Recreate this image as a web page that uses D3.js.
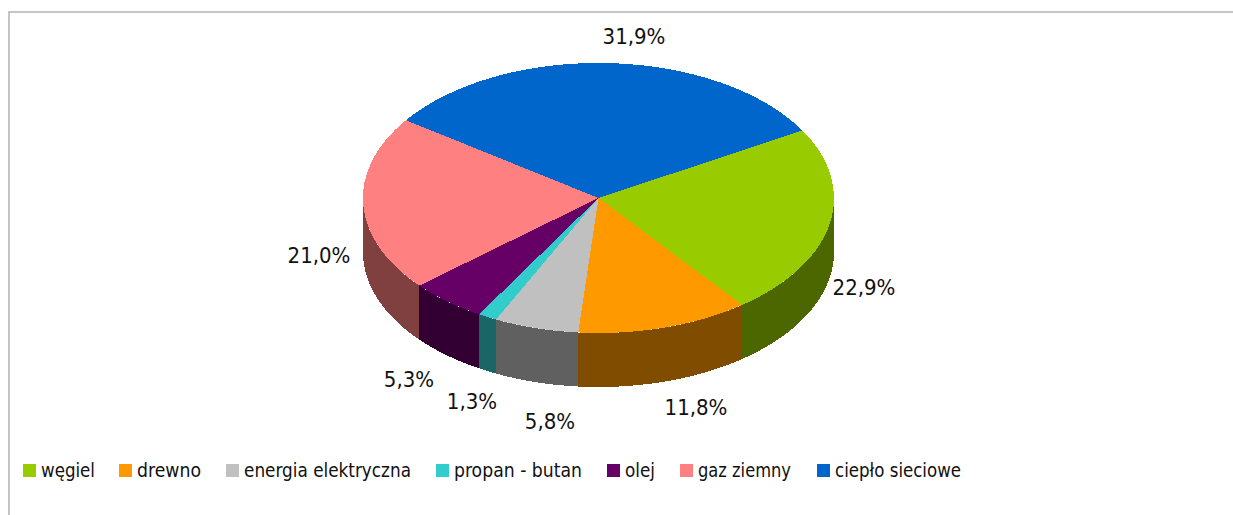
<!DOCTYPE html>
<html><head><meta charset="utf-8">
<script src="https://cdn.jsdelivr.net/npm/d3@7"></script>
<style>html,body{margin:0;padding:0;background:#fff;overflow:hidden}svg{display:block}
text{font-family:"DejaVu Sans Condensed","DejaVu Sans",sans-serif;fill:#111}</style></head>
<body><svg id="c" width="1233" height="515"></svg>
<script>
const categories = ["węgiel","drewno","energia elektryczna","propan - butan","olej","gaz ziemny","ciepło sieciowe"];
const values = [22.9,11.8,5.8,1.3,5.3,21.0,31.9];
const valueLabels = ["22,9%","11,8%","5,8%","1,3%","5,3%","21,0%","31,9%"];
const colors = ["#99cc00","#ff9900","#c0c0c0","#33cccc","#660066","#ff8080","#0066cc"];
const sideColors = ["#4c6600","#804c00","#606060","#1a6666","#330033","#804040","#003366"];
const labelX = [864,696,550,472,409,319,634];
const labelY = [287,407,421,401,379,255,36];
const legendX = [23,119,226,436,607,680,817];
const legendW = [54,64,167,128,30,93,126];

const svg = d3.select("#c");
const cx=598.5, cy=198, rx=235.5, ry=135, depth=54;
const px=a=>cx+rx*Math.sin(a), py=a=>cy-ry*Math.cos(a);

svg.append("path").attr("d","M9 515V12H1233").attr("fill","none").attr("stroke","#b3b3b3").attr("stroke-width",1.5);

const startAngle=60*Math.PI/180;
const arcs=d3.pie().sort(null).value(d=>d).startAngle(startAngle).endAngle(startAngle+2*Math.PI)(values);

// side wall: visible where the rim faces front (PI/2 .. 3PI/2)
const area=d3.area().x(px).y0(a=>py(a)+depth).y1(py);
arcs.forEach(d=>{
  const a0=Math.max(d.startAngle,Math.PI/2), a1=Math.min(d.endAngle,1.5*Math.PI);
  if(a1<=a0) return;
  const n=Math.ceil((a1-a0)/0.005);
  const as=d3.range(n+1).map(i=>a0+(a1-a0)*i/n);
  svg.append("path").attr("d",area(as)).attr("fill",sideColors[d.index])
    .attr("shape-rendering","crispEdges");
});

// top face
const arc=d3.arc().innerRadius(0).outerRadius(1);
const topFace=svg.append("g").attr("transform",`translate(${cx},${cy}) scale(${rx},${ry})`);
topFace.selectAll("path").data(arcs).join("path").attr("d",arc)
  .attr("fill",d=>colors[d.index]).attr("shape-rendering","crispEdges");

// value labels
svg.selectAll("text.v").data(valueLabels).join("text").attr("class","v")
  .attr("x",(d,i)=>labelX[i]).attr("y",(d,i)=>labelY[i]+8)
  .attr("text-anchor","middle").attr("font-size",22).text(d=>d);

// legend
const lg=svg.selectAll("g.l").data(categories).join("g").attr("class","l")
  .attr("transform",(d,i)=>`translate(${legendX[i]},464)`);
lg.append("rect").attr("width",13).attr("height",13).attr("fill",(d,i)=>colors[i]);
lg.append("text").attr("x",18).attr("y",13).attr("font-size",19.5)
  .attr("textLength",(d,i)=>legendW[i]).attr("lengthAdjust","spacingAndGlyphs").text(d=>d);
</script></body></html>
